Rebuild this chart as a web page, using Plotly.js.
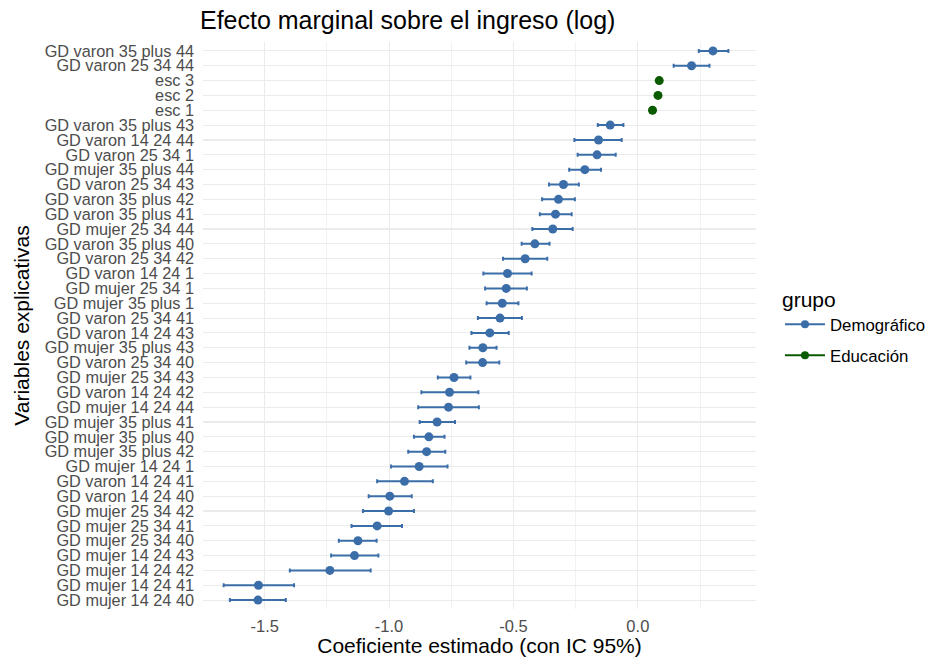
<!DOCTYPE html>
<html>
<head>
<meta charset="utf-8">
<script src="https://cdn.plot.ly/plotly-3.0.1.min.js"></script>
<style>html,body{margin:0;padding:0;background:#fff;}#chart{width:928px;height:665px;}</style>
</head>
<body>
<div id="chart"></div>
<script>
// categories top to bottom
const variables = [
  "GD varon 35 plus 44","GD varon 25 34 44","esc 3","esc 2","esc 1",
  "GD varon 35 plus 43","GD varon 14 24 44","GD varon 25 34 1","GD mujer 35 plus 44","GD varon 25 34 43",
  "GD varon 35 plus 42","GD varon 35 plus 41","GD mujer 25 34 44","GD varon 35 plus 40","GD varon 25 34 42",
  "GD varon 14 24 1","GD mujer 25 34 1","GD mujer 35 plus 1","GD varon 25 34 41","GD varon 14 24 43",
  "GD mujer 35 plus 43","GD varon 25 34 40","GD mujer 25 34 43","GD varon 14 24 42","GD mujer 14 24 44",
  "GD mujer 35 plus 41","GD mujer 35 plus 40","GD mujer 35 plus 42","GD mujer 14 24 1","GD varon 14 24 41",
  "GD varon 14 24 40","GD mujer 25 34 42","GD mujer 25 34 41","GD mujer 25 34 40","GD mujer 14 24 43",
  "GD mujer 14 24 42","GD mujer 14 24 41","GD mujer 14 24 40"
];
const grupo = [
  "Demográfico","Demográfico","Educación","Educación","Educación",
  "Demográfico","Demográfico","Demográfico","Demográfico","Demográfico",
  "Demográfico","Demográfico","Demográfico","Demográfico","Demográfico",
  "Demográfico","Demográfico","Demográfico","Demográfico","Demográfico",
  "Demográfico","Demográfico","Demográfico","Demográfico","Demográfico",
  "Demográfico","Demográfico","Demográfico","Demográfico","Demográfico",
  "Demográfico","Demográfico","Demográfico","Demográfico","Demográfico",
  "Demográfico","Demográfico","Demográfico"
];
const estimado = [
  0.302,0.216,0.086,0.081,0.059,
  -0.111,-0.158,-0.164,-0.213,-0.299,
  -0.319,-0.331,-0.342,-0.414,-0.453,
  -0.524,-0.529,-0.545,-0.554,-0.595,
  -0.623,-0.624,-0.739,-0.757,-0.761,
  -0.807,-0.840,-0.849,-0.879,-0.938,
  -0.997,-1.002,-1.048,-1.125,-1.139,
  -1.238,-1.525,-1.527
];
const ic_inf = [
  0.245,0.144,0.083,0.078,0.056,
  -0.161,-0.255,-0.242,-0.276,-0.357,
  -0.385,-0.394,-0.424,-0.467,-0.542,
  -0.621,-0.614,-0.608,-0.643,-0.669,
  -0.677,-0.690,-0.804,-0.870,-0.883,
  -0.877,-0.900,-0.923,-0.992,-1.048,
  -1.082,-1.105,-1.151,-1.202,-1.233,
  -1.399,-1.665,-1.640
];
const ic_sup = [
  0.364,0.288,0.089,0.084,0.062,
  -0.058,-0.065,-0.089,-0.148,-0.237,
  -0.253,-0.266,-0.262,-0.355,-0.364,
  -0.427,-0.446,-0.480,-0.466,-0.519,
  -0.568,-0.557,-0.673,-0.641,-0.639,
  -0.735,-0.777,-0.774,-0.765,-0.824,
  -0.909,-0.900,-0.948,-1.050,-1.043,
  -1.074,-1.382,-1.415
];
const xTicks = [-1.5,-1.0,-0.5,0.0];
const xTickLabels = ["-1.5","-1.0","-0.5","0.0"];
const grupos = ["Demográfico","Educación"];
const colores = {"Demográfico":"#3b6ea8","Educación":"#0a5a00"};

const traces = [];
grupos.forEach(g => {
  const idx = grupo.map((v,i)=>v===g?i:-1).filter(i=>i>=0);
  traces.push({
    type:"scatter", mode:"markers",
    x: idx.map(i=>estimado[i]), y: idx.map(i=>variables[i]),
    marker:{color:colores[g], size:9},
    error_x:{type:"data", symmetric:false,
      array: idx.map(i=>ic_sup[i]-estimado[i]),
      arrayminus: idx.map(i=>estimado[i]-ic_inf[i]),
      color:colores[g], thickness:2, width:2},
    showlegend:false, name:g, hoverinfo:"x+y"
  });
});
grupos.forEach(g => {
  traces.push({
    type:"scatter", mode:"lines+markers", x:[null], y:[null], name:g,
    legendgroup:g,
    line:{color:colores[g], width:2}, marker:{color:colores[g], size:8},
    showlegend:true
  });
});

const layout = {
  width:928, height:665,
  margin:{l:203, r:172, t:42, b:56},
  paper_bgcolor:"#fff", plot_bgcolor:"#fff",
  font:{family:"Liberation Sans, Arial, sans-serif", color:"#000"},
  title:{text:"Efecto marginal sobre el ingreso (log)", font:{size:25, color:"#000"},
    xref:"container", x:0.2155, xanchor:"left", yref:"container", y:0.97, yanchor:"middle"},
  xaxis:{range:[-1.748,0.475], tickmode:"array", tickvals:xTicks, ticktext:xTickLabels,
    showgrid:true, gridcolor:"#ebebeb", gridwidth:1.1, zeroline:false, showline:false, ticks:"",
    tickfont:{size:16.5, color:"#4d4d4d"}, ticklabelstandoff:5,
    minor:{dtick:0.25, tick0:0, showgrid:true, gridcolor:"#ededed", gridwidth:0.7},
    title:{text:"Coeficiente estimado (con IC 95%)", font:{size:21, color:"#000"}, standoff:2}},
  yaxis:{type:"category", categoryorder:"array", categoryarray:variables, range:[37.6,-0.6],
    tickmode:"array", tickvals:variables, ticktext:variables,
    showgrid:true, gridcolor:"#ebebeb", gridwidth:1.1, zeroline:false, showline:false, ticks:"",
    tickfont:{size:16.3, color:"#4d4d4d"}, ticklabelstandoff:8,
    title:{text:"Variables explicativas", font:{size:21, color:"#000"}, standoff:9}},
  legend:{xref:"container", x:0.8405, xanchor:"left", yref:"container", y:0.5795, yanchor:"top",
    traceorder:"grouped", tracegroupgap:6, itemwidth:40,
    title:{text:"grupo", font:{size:21, color:"#000"}}, font:{size:16.8, color:"#000"}, bgcolor:"rgba(0,0,0,0)"},
  hovermode:"closest"
};
Plotly.newPlot("chart", traces, layout, {displayModeBar:false, staticPlot:true});
</script>
</body>
</html>
